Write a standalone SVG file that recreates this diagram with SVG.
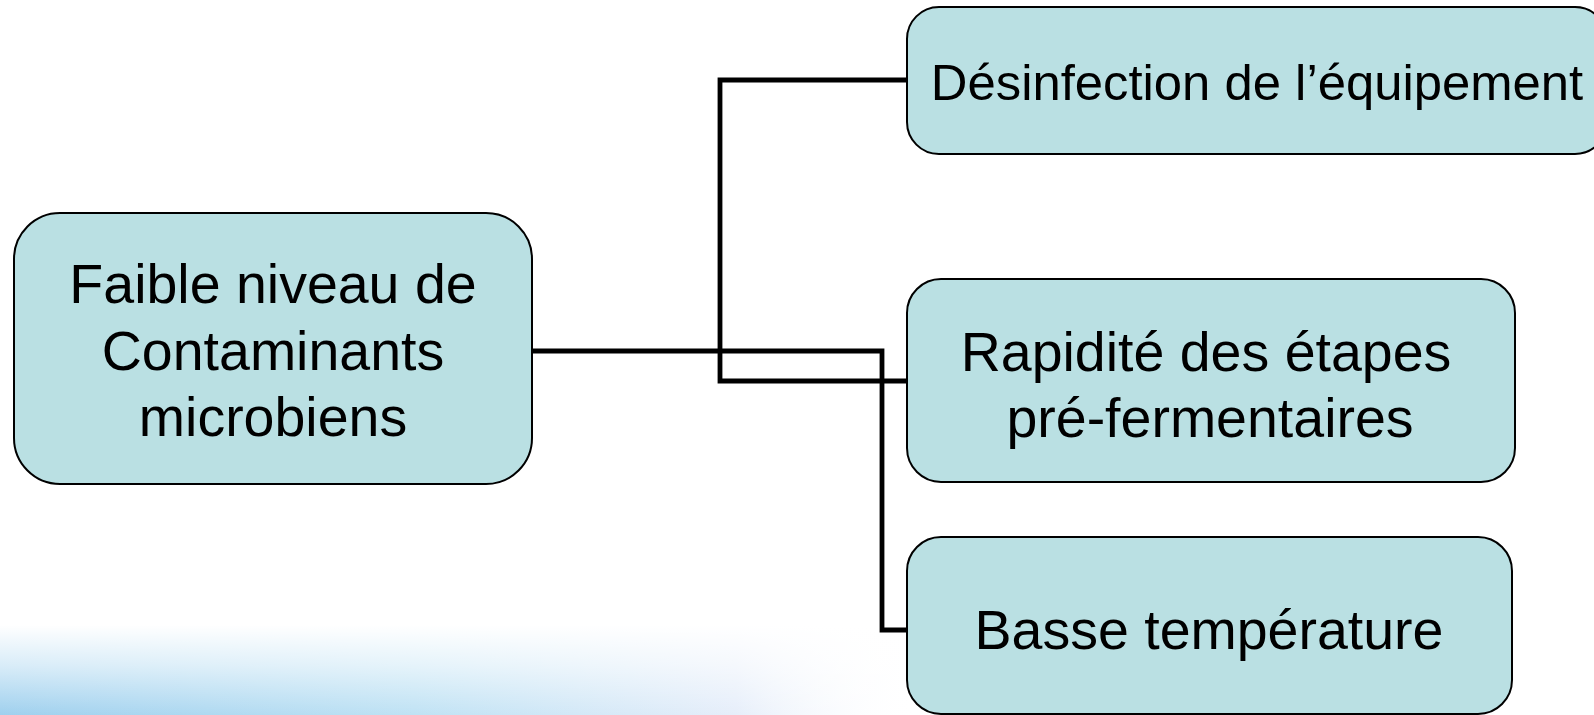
<svg xmlns="http://www.w3.org/2000/svg" width="1594" height="715" viewBox="0 0 1594 715">
<defs>
<linearGradient id="bandH" x1="0" y1="0" x2="1" y2="0">
<stop offset="0" stop-color="#9fd0ee"/>
<stop offset="0.45" stop-color="#bfe2f4"/>
<stop offset="0.8" stop-color="#e6eefa"/>
<stop offset="1" stop-color="#ffffff" stop-opacity="0"/>
</linearGradient>
<linearGradient id="bandV" x1="0" y1="0" x2="0" y2="1">
<stop offset="0" stop-color="#ffffff" stop-opacity="1"/>
<stop offset="0.45" stop-color="#ffffff" stop-opacity="0.6"/>
<stop offset="1" stop-color="#ffffff" stop-opacity="0"/>
</linearGradient>
<style>
.box{fill:#bae0e3;stroke:#000;stroke-width:2}
.t{font-family:"Liberation Sans",Arial,sans-serif;font-size:55.5px;fill:#000;text-anchor:middle}
.t2{font-family:"Liberation Sans",Arial,sans-serif;font-size:50.8px;fill:#000;text-anchor:middle}
.c{fill:none;stroke:#000;stroke-width:4.8}
</style>
</defs>
<rect width="1594" height="715" fill="#ffffff"/>
<g id="background">
<rect x="0" y="625" width="920" height="90" fill="url(#bandH)"/>
<rect x="0" y="625" width="920" height="90" fill="url(#bandV)"/>
</g>
<g id="connectors">
<path class="c" d="M532,351 H882 V630 H907"/>
<path class="c" d="M907,80 H720 V381 H907"/>
</g>
<g id="node-main">
<rect class="box" x="14" y="213" width="518" height="271" rx="46" ry="46"/>
<text class="t" x="273" y="303">Faible niveau de</text>
<text class="t" x="273" y="370">Contaminants</text>
<text class="t" x="273" y="436">microbiens</text>
</g>
<g id="node-desinfection">
<rect class="box" x="907" y="7" width="700" height="147" rx="32" ry="32"/>
<text class="t2" x="1257" y="100">Désinfection de l’équipement</text>
</g>
<g id="node-rapidite">
<rect class="box" x="907" y="279" width="608" height="203" rx="34" ry="34"/>
<text class="t" x="1206" y="371">Rapidité des étapes</text>
<text class="t" x="1210" y="437">pré-fermentaires</text>
</g>
<g id="node-basse">
<rect class="box" x="907" y="537" width="605" height="177" rx="34" ry="34"/>
<text class="t" x="1209" y="649">Basse température</text>
</g>
</svg>
